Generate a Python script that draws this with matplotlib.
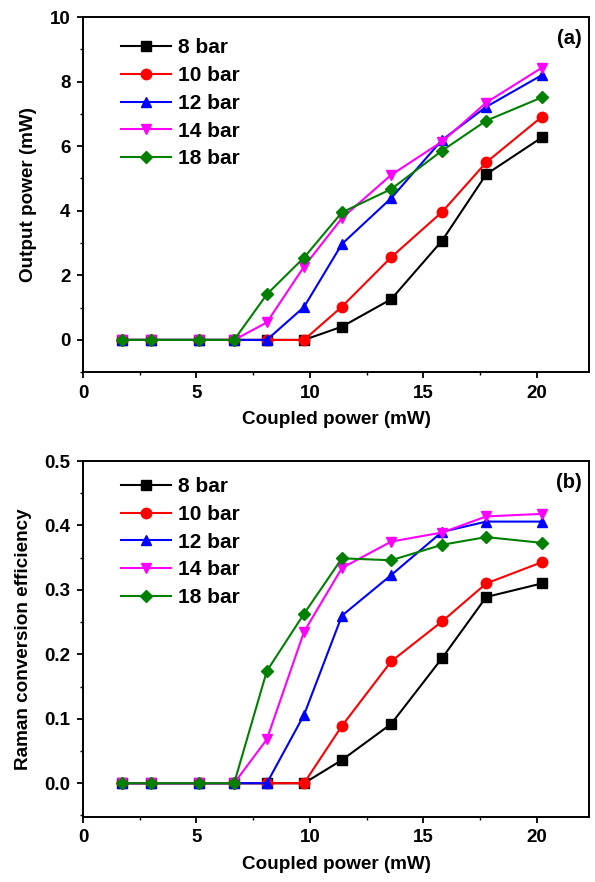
import numpy as np
import matplotlib
matplotlib.use("Agg")
from matplotlib import pyplot as plt
from matplotlib.ticker import MultipleLocator

plt.rcParams['font.family'] = ['Liberation Sans', 'DejaVu Sans']
plt.rcParams['font.weight'] = 'bold'

coupled = [1.71, 3.0, 5.11, 6.66, 8.1, 9.74, 11.41, 13.58, 15.82, 17.77, 20.22]
labels = ["8 bar", "10 bar", "12 bar", "14 bar", "18 bar"]
colors = ["black", "red", "blue", "magenta", "green"]
markers = ["s", "o", "^", "v", "D"]

output_8 = [0, 0, 0, 0, 0, 0, 0.41, 1.26, 3.07, 5.13, 6.27]
output_10 = [0, 0, 0, 0, 0, 0, 1.03, 2.56, 3.96, 5.50, 6.91]
output_12 = [0, 0, 0, 0, 0, 1.02, 2.97, 4.39, 6.19, 7.22, 8.20]
output_14 = [0, 0, 0, 0, 0.54, 2.27, 3.77, 5.11, 6.14, 7.35, 8.43]
output_18 = [0, 0, 0, 0, 1.41, 2.55, 3.95, 4.67, 5.86, 6.79, 7.51]

eff_8 = [0, 0, 0, 0, 0, 0, 0.036, 0.092, 0.194, 0.289, 0.310]
eff_10 = [0, 0, 0, 0, 0, 0, 0.089, 0.189, 0.251, 0.310, 0.343]
eff_12 = [0, 0, 0, 0, 0, 0.106, 0.260, 0.323, 0.390, 0.406, 0.406]
eff_14 = [0, 0, 0, 0, 0.068, 0.235, 0.334, 0.375, 0.389, 0.414, 0.418]
eff_18 = [0, 0, 0, 0, 0.174, 0.263, 0.349, 0.346, 0.370, 0.382, 0.373]

outputs = [output_8, output_10, output_12, output_14, output_18]
effs = [eff_8, eff_10, eff_12, eff_14, eff_18]

fig = plt.figure(figsize=(5.95, 8.82), dpi=100)
ax1 = fig.add_axes([0.1395, 0.578, 0.8505, 0.4027])
ax2 = fig.add_axes([0.1395, 0.074, 0.8505, 0.4033])

def style(ax, series, ylim, major, minor, ylabel, tag, legend_top):
    for ys, c, m, lab in zip(series, colors, markers, labels):
        ms = 6.5 if m == "D" else 7.5
        ax.plot(coupled, ys, color=c, marker=m, markersize=ms, lw=1.5, label=lab)
    ax.set_xlim(0, 22.3)
    ax.set_ylim(*ylim)
    ax.xaxis.set_major_locator(MultipleLocator(5))
    ax.xaxis.set_minor_locator(MultipleLocator(2.5))
    ax.yaxis.set_major_locator(MultipleLocator(major))
    ax.yaxis.set_minor_locator(MultipleLocator(minor))
    ax.tick_params(which="major", direction="out", length=4, width=1.3, labelsize=13.5, pad=5)
    ax.tick_params(which="minor", direction="out", length=2.5, width=1.0)
    for lbl in ax.get_xticklabels() + ax.get_yticklabels():
        lbl.set_fontweight("bold")
    for sp in ax.spines.values():
        sp.set_linewidth(1.4)
    ax.set_xlabel("Coupled power (mW)", fontsize=13.6, fontweight="bold", labelpad=7)
    ax.set_ylabel(ylabel, fontsize=13.6, fontweight="bold", labelpad=9)
    ax.text(0.985, 0.965, tag, transform=ax.transAxes, ha="right", va="top",
            fontsize=14.5, fontweight="bold")
    ax.legend(loc="upper left", bbox_to_anchor=(0.05, legend_top), frameon=False,
              prop={"size": 15, "weight": "bold"}, handlelength=2.4,
              handletextpad=0.35, labelspacing=0.42, borderaxespad=0.2)

style(ax1, outputs, (-1, 10), 2, 1, "Output power (mW)", "(a)", 0.975)
style(ax2, effs, (-0.052, 0.5), 0.1, 0.05, "Raman conversion efficiency", "(b)", 0.99)

ax1.yaxis.set_major_formatter(matplotlib.ticker.FormatStrFormatter("%d"))
ax2.yaxis.set_major_formatter(matplotlib.ticker.FormatStrFormatter("%.1f"))

fig.savefig("out.png", dpi=100)
